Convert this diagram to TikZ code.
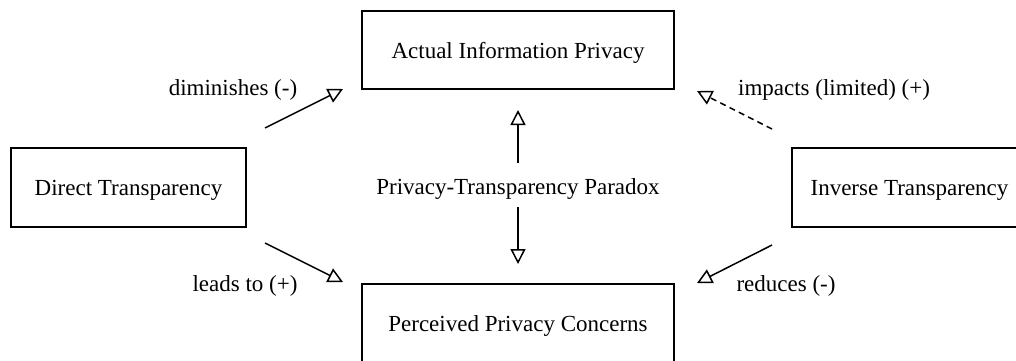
\documentclass[tikz,border=0pt]{standalone}
\usepackage{fontspec}
\setmainfont{Liberation Serif}
\usetikzlibrary{arrows.meta}
\tikzset{
  concept/.style={draw, line width=1pt, inner sep=0pt, text height=9.5pt, text depth=1pt,
    font=\fontsize{11.5}{14}\selectfont},
  lbl/.style={inner sep=0pt, font=\fontsize{11.5}{14}\selectfont},
  link/.style={line width=0.75pt, -{Triangle[open, length=7.5pt, width=7.5pt, line width=0.75pt]}},
  weaklink/.style={link, dash pattern=on 3pt off 2.2pt}
}
\begin{document}
\begin{tikzpicture}[x=0.5pt, y=-0.5pt]
  \clip (0,0) rectangle (1016,360);
  \fill[white] (0,0) rectangle (1016,360);

  % concepts
  \node[concept, minimum width=156pt, minimum height=39pt] (actual) at (518,50) {Actual Information Privacy};
  \node[concept, minimum width=156pt, minimum height=39pt] (perceived) at (518,323) {Perceived Privacy Concerns};
  \node[concept, minimum width=117.5pt, minimum height=39.5pt] (direct) at (128.5,187) {Direct Transparency};
  \node[concept, minimum width=117.5pt, minimum height=39.5pt] (inverse) at (909.5,187) {Inverse Transparency};
  \node[lbl] (paradox) at (518,189) {Privacy-Transparency Paradox};

  % connector end points
  \coordinate (dimS) at (265,128);  \coordinate (dimE) at (343,89);
  \coordinate (leadS) at (265,243); \coordinate (leadE) at (343,282);
  \coordinate (impS) at (772,129);  \coordinate (impE) at (697,91);
  \coordinate (redS) at (772,245);  \coordinate (redE) at (697,283);
  \coordinate (upS) at (518,163);   \coordinate (upE) at (518,110);
  \coordinate (dnS) at (518,207);   \coordinate (dnE) at (518,264);

  % relations
  \draw[link] (dimS) -- (dimE);
  \draw[link] (leadS) -- (leadE);
  \draw[weaklink] (impS) -- (impE);
  \draw[link] (redS) -- (redE);
  \draw[link] (upS) -- (upE);
  \draw[link] (dnS) -- (dnE);

  % relation labels
  \node[lbl] (dimL) at (233,90) {diminishes (-)};
  \node[lbl] (leadL) at (245,286) {leads to (+)};
  \node[lbl] (impL) at (834,90) {impacts (limited) (+)};
  \node[lbl] (redL) at (786,286) {reduces (-)};
\end{tikzpicture}
\end{document}
